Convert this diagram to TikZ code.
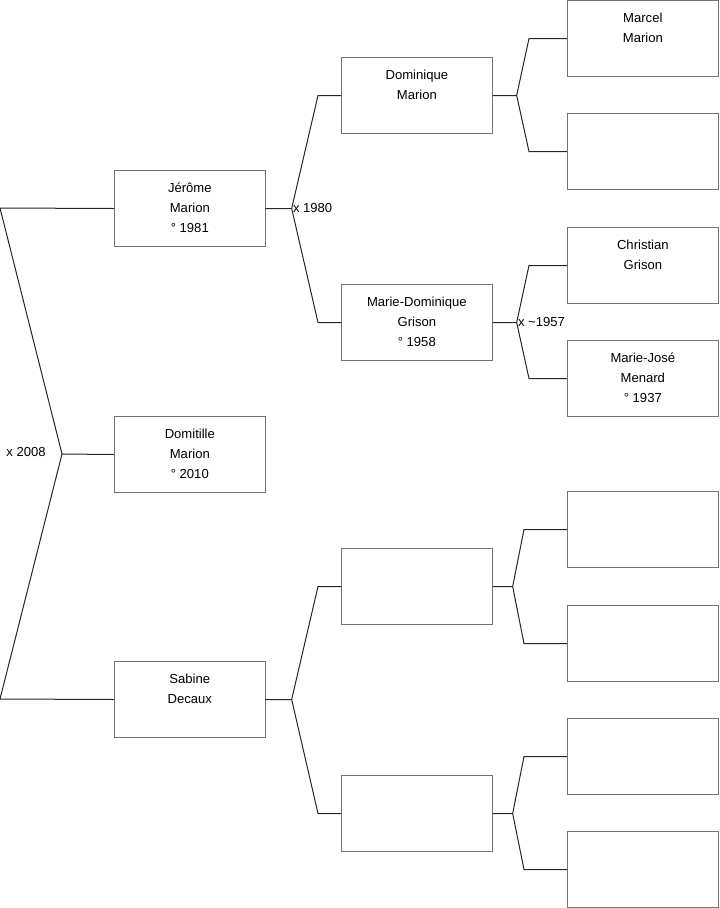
\documentclass[tikz,border=0pt]{standalone}
\usepackage{fontspec}
\setmainfont{Liberation Sans}
\usetikzlibrary{calc}

\newcommand{\who}[1]{\parbox[t][57pt][t]{110pt}{\centering\rule{0pt}{16.3pt}#1}}

\tikzset{
  person/.style={draw=black!55, line width=0.75pt, inner sep=0pt, minimum width=113pt, minimum height=57pt, anchor=north west, font=\fontsize{9.8}{15}\selectfont},
  link/.style={draw=black!85, line width=0.75pt},
  wedding/.style={inner sep=0.8pt, font=\fontsize{9.8}{15}\selectfont}
}

\begin{document}
\begin{tikzpicture}[x=0.75pt, y=-0.75pt]
\useasboundingbox (0,0) rectangle (719,908);

% children and parents
\node[person] (jerome) at (114,170) {\who{Jérôme\\Marion\\° 1981}};
\node[person] (domitille) at (114,416) {\who{Domitille\\Marion\\° 2010}};
\node[person] (sabine) at (114,661) {\who{Sabine\\Decaux}};

% grandparents
\node[person] (dominique) at (341,57) {\who{Dominique\\Marion}};
\node[person] (mdgrison) at (341,284) {\who{Marie-Dominique\\Grison\\° 1958}};
\node[person] (sabdad) at (341,548) {\who{}};
\node[person] (sabmom) at (341,775) {\who{}};

% great-grandparents
\node[person] (marcel) at (567,0) {\who{Marcel\\Marion}};
\node[person] (domgm) at (567,113) {\who{}};
\node[person] (christian) at (567,227) {\who{Christian\\Grison}};
\node[person] (mjmenard) at (567,340) {\who{Marie-José\\Menard\\° 1937}};
\node[person] (sdgf) at (567,491) {\who{}};
\node[person] (sdgm) at (567,605) {\who{}};
\node[person] (smgf) at (567,718) {\who{}};
\node[person] (smgm) at (567,831) {\who{}};

% couple of jerome and sabine
\coordinate (root) at (62,454);
\coordinate (rootA) at (0,208);
\coordinate (rootB) at (0,699);
\draw[link] (jerome.west) -- (rootA) -- (root) -- (rootB) -- (sabine.west);
\draw[link] (root) -- (domitille.west);
\node[wedding, anchor=east] (w2008) at (47,452) {x 2008};

% forks to the parents
\foreach \p/\a/\b/\o/\i in {jerome/dominique/mdgrison/26/23, sabine/sabdad/sabmom/26/23,
    dominique/marcel/domgm/24/38, mdgrison/christian/mjmenard/24/38,
    sabdad/sdgf/sdgm/20/43, sabmom/smgf/smgm/20/43}{
  \coordinate (\p-x) at ($(\p.east)+(\o,0)$);
  \draw[link] (\p.east) -- (\p-x) -- ($(\a.west)+(-\i,0)$) -- (\a.west);
  \draw[link] (\p-x) -- ($(\b.west)+(-\i,0)$) -- (\b.west);
}

\node[wedding, anchor=west] (w1980) at ($(jerome-x)+(0,-1)$) {x 1980};
\node[wedding, anchor=west] (w1957) at ($(mdgrison-x)+(0,-1)$) {x \textasciitilde1957};
\end{tikzpicture}
\end{document}
